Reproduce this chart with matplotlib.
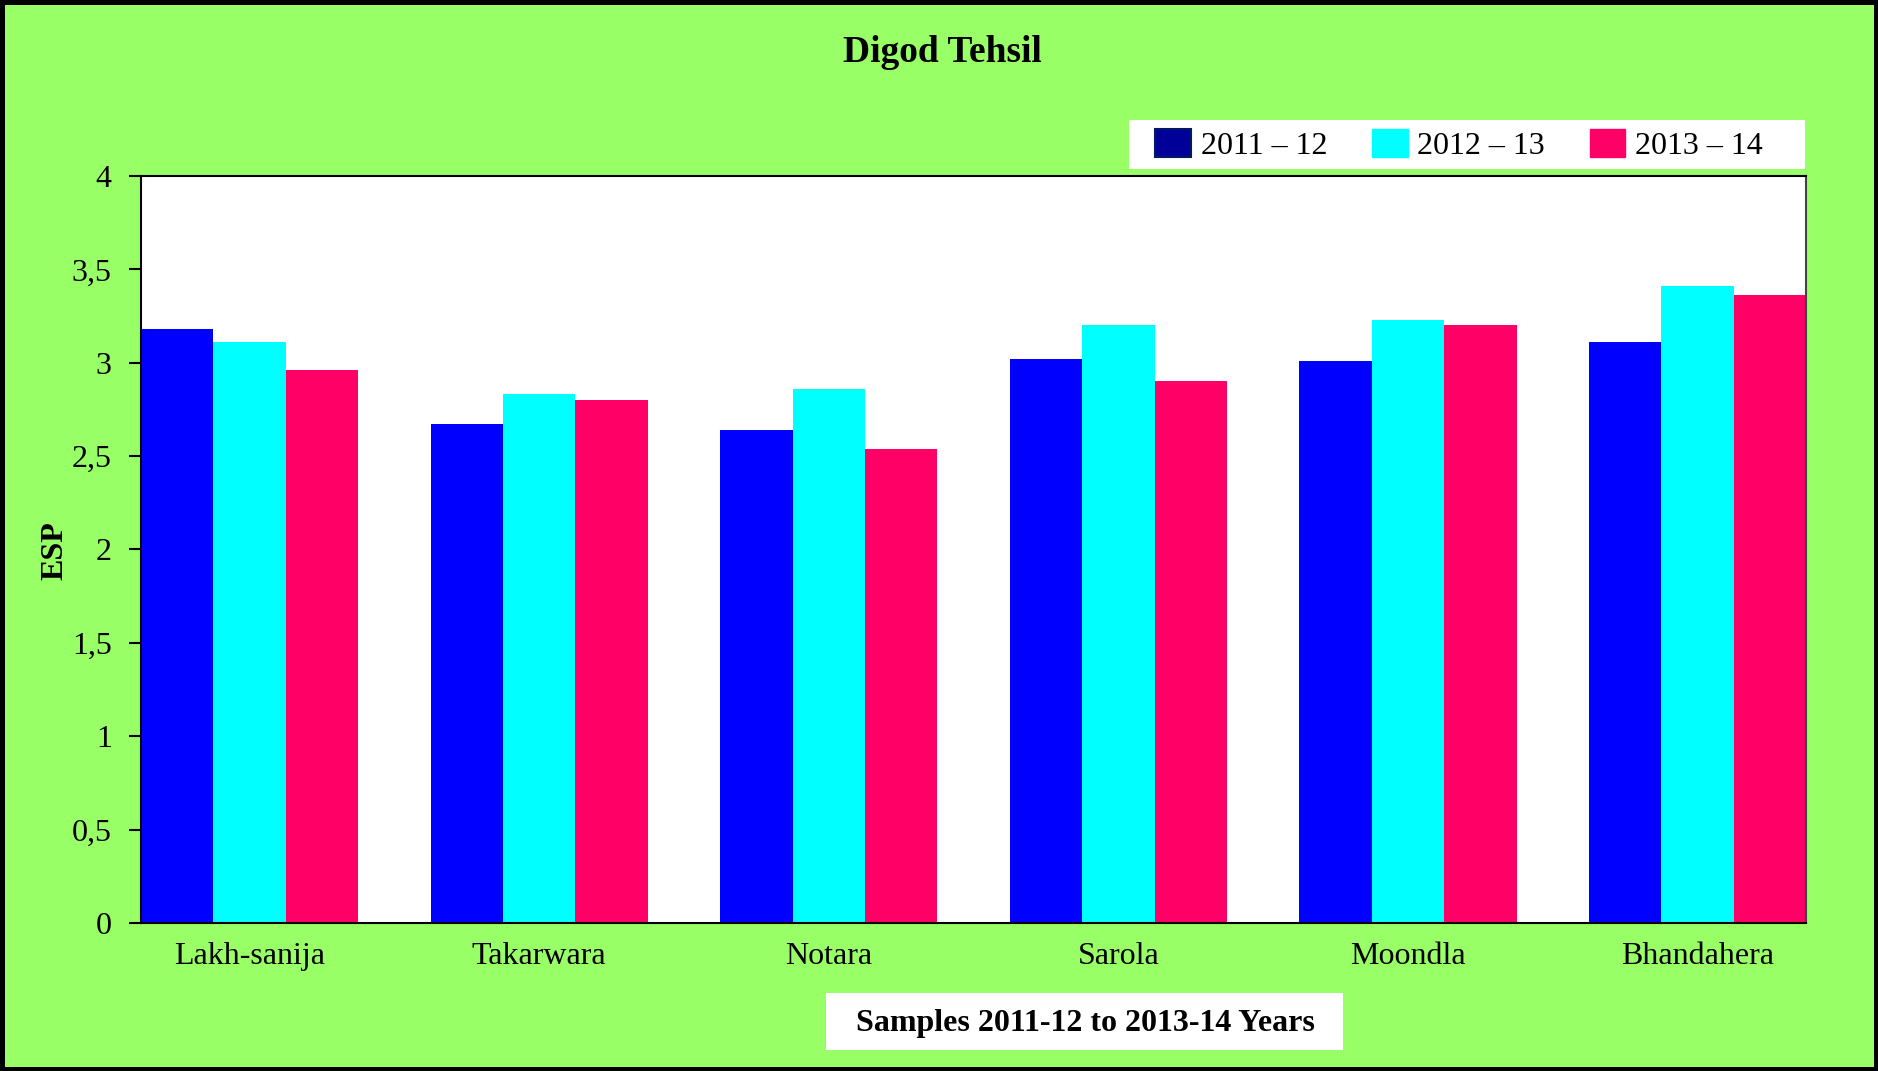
import numpy as np
import matplotlib
matplotlib.use("Agg")
import matplotlib.pyplot as plt
from matplotlib.patches import Rectangle, Patch

# ESP values per sampling site, three seasons
sites = ["Lakh-sanija", "Takarwara", "Notara", "Sarola", "Moondla", "Bhandahera"]
esp_2011_12 = [3.18, 2.67, 2.64, 3.02, 3.01, 3.11]
esp_2012_13 = [3.11, 2.83, 2.86, 3.20, 3.23, 3.41]
esp_2013_14 = [2.96, 2.80, 2.54, 2.90, 3.20, 3.36]
years = ["2011 \u2013 12", "2012 \u2013 13", "2013 \u2013 14"]
y_ticks = [0, 0.5, 1, 1.5, 2, 2.5, 3, 3.5, 4]
y_ticklabels = ["0", "0,5", "1", "1,5", "2", "2,5", "3", "3,5", "4"]

plt.rcParams['font.family'] = ['Liberation Serif', 'DejaVu Serif']

GREEN = "#99FF66"
colors = ["#0000FF", "#00FFFF", "#FF0066"]
FS = 23

fig = plt.figure(figsize=(18.78, 10.71), dpi=100, facecolor=GREEN)
ax = fig.add_axes([0.0751, 0.1382, 0.8866, 0.6975])
ax.set_facecolor("white")

x = np.arange(len(sites))
w = 0.25
for i, vals in enumerate([esp_2011_12, esp_2012_13, esp_2013_14]):
    ax.bar(x + (i - 1) * w, vals, width=w, color=colors[i], linewidth=0, zorder=2)

ax.set_xlim(-0.375, len(sites) - 1 + 0.375)
ax.set_ylim(0, 4)
ax.set_yticks(y_ticks)
ax.set_yticklabels(y_ticklabels, fontsize=FS)
ax.set_xticks(x)
ax.set_xticklabels(sites, fontsize=FS)
ax.tick_params(axis='y', length=9, width=1.5, pad=12)
ax.tick_params(axis='x', length=0, pad=14)
for s in ax.spines.values():
    s.set_linewidth(1.5)
    s.set_color("black")
ax.spines['right'].set_color("#444444")

fig.text(55 / 1878, 1 - 551 / 1071, "ESP", rotation=90, ha='center', va='center',
         fontsize=FS, fontweight='bold')

fig.text(0.502, 0.951, "Digod Tehsil", ha='center', va='center',
         fontsize=27, fontweight='bold')

# legend on a white strip above the plot
fig.patches.append(Rectangle((1129 / 1878, 1 - 169 / 1071), 676 / 1878, 49 / 1071,
                             transform=fig.transFigure, facecolor="white",
                             edgecolor="none", zorder=1))
handles = [Patch(facecolor="#000099", edgecolor="#001A66", linewidth=1.5),
           Patch(facecolor=colors[1], edgecolor=colors[1]),
           Patch(facecolor=colors[2], edgecolor=colors[2])]
fig.legend(handles, years, loc='center', bbox_to_anchor=(1459 / 1878, 1 - 145 / 1071),
           ncol=3, frameon=False, fontsize=FS, handlelength=1.12, handleheight=1.0,
           handletextpad=0.3, columnspacing=1.4, borderpad=0, borderaxespad=0)

# x axis caption box
fig.patches.append(Rectangle((826 / 1878, 1 - 1050 / 1071), 517 / 1878, 57 / 1071,
                             transform=fig.transFigure, facecolor="white",
                             edgecolor="none", zorder=1))
fig.text(1085 / 1878, 1 - 1024 / 1071, "Samples 2011-12 to 2013-14 Years",
         ha='center', va='center', fontsize=FS, fontweight='bold')

# outer frame
fig.patches.append(Rectangle((0.0013, 0.0023), 0.9974, 0.9954, transform=fig.transFigure,
                             facecolor="none", edgecolor="black", linewidth=3.6, zorder=5))

fig.savefig("out.png", dpi=100, facecolor=GREEN)
